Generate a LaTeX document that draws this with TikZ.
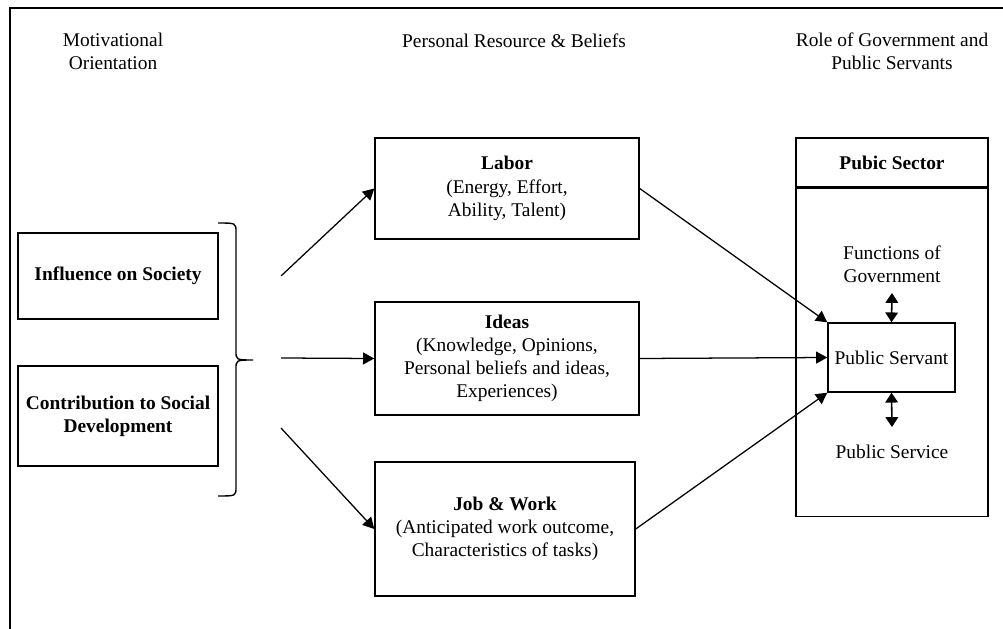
\documentclass[tikz,border=0pt]{standalone}
\usepackage{fontspec}
\setmainfont{Liberation Serif}
\usetikzlibrary{arrows.meta}

\begin{document}
\begin{tikzpicture}[
  x=0.025cm, y=-0.025cm,
  font=\fontsize{13.8}{16.5}\selectfont,
  box/.style={rectangle, draw, line width=1pt, align=center, inner sep=2pt},
  head/.style={align=center, inner sep=0pt},
  arrow/.style={-{Triangle[length=8pt, width=8.5pt]}, line width=0.9pt},
  dblarrow/.style={{Triangle[length=7pt, width=9pt]}-{Triangle[length=7pt, width=9pt]}, line width=1.1pt}
]
  \useasboundingbox (0,0) rectangle (1003,629);

  % Frame
  \draw[line width=1pt] (9,8) -- (1003,8);
  \draw[line width=1pt] (10,8) -- (10,629);

  % Headings
  \node[head] (motiv) at (113,51) {Motivational\\Orientation};
  \node[head] (resource) at (514,41) {Personal Resource \& Beliefs};
  \node[head] (role) at (892,51) {Role of Government and\\Public Servants};

  % Motivation boxes
  \node[box, minimum width=5cm, minimum height=2.15cm] (influence) at (118,276) {\textbf{Influence on Society}};
  \node[box, minimum width=5cm, minimum height=2.5cm] (contrib) at (118,416) {\textbf{Contribution to Social}\\\textbf{Development}};

  % Brace
  \draw[line width=1pt] (218,223) .. controls (236,223) .. (236,232) -- (236,351)
    .. controls (236,360) .. (253,360) .. controls (236,360) .. (236,369) -- (236,487)
    .. controls (236,496) .. (218,496);

  % Resource boxes
  \node[box, minimum width=6.6cm, minimum height=2.525cm] (labor) at (507,188.5) {\textbf{Labor}\\(Energy, Effort,\\Ability, Talent)};
  \node[box, minimum width=6.6cm, minimum height=2.825cm] (ideas) at (507,358.5) {\textbf{Ideas}\\(Knowledge, Opinions,\\Personal beliefs and ideas,\\Experiences)};
  \node[box, minimum width=6.5cm, minimum height=3.35cm] (job) at (505,529) {\textbf{Job \& Work}\\(Anticipated work outcome,\\Characteristics of tasks)};

  % Public sector
  \node[box, minimum width=4.8cm, minimum height=1.225cm] (sector) at (892,162.5) {\textbf{Pubic Sector}};
  \node[box, minimum width=4.8cm, minimum height=8.2cm, anchor=north] (sectorbody) at (sector.south) {};
  \node[box, minimum width=3.175cm, minimum height=1.725cm] (servant) at (891.5,357.5) {Public Servant};
  \node[head] (functions) at (892,264) {Functions of\\Government};
  \node[head] (service) at (892,452) {Public Service};
  \coordinate (fup) at (892,293);
  \coordinate (sdown) at (892,427);

  % Arrows
  \coordinate (m1) at (281,276);
  \coordinate (m2) at (281,358);
  \coordinate (m3) at (281,428);
  \draw[arrow] (m1) -- (labor.west);
  \draw[arrow] (m2) -- (ideas.west);
  \draw[arrow] (m3) -- (job.west);
  \draw[arrow] (labor.east) -- (servant.north west);
  \draw[arrow] (ideas.east) -- (servant.west);
  \draw[arrow] (job.east) -- (servant.south west);
  \draw[dblarrow] (fup) -- (servant.north);
  \draw[dblarrow] (servant.south) -- (sdown);
\end{tikzpicture}
\end{document}
